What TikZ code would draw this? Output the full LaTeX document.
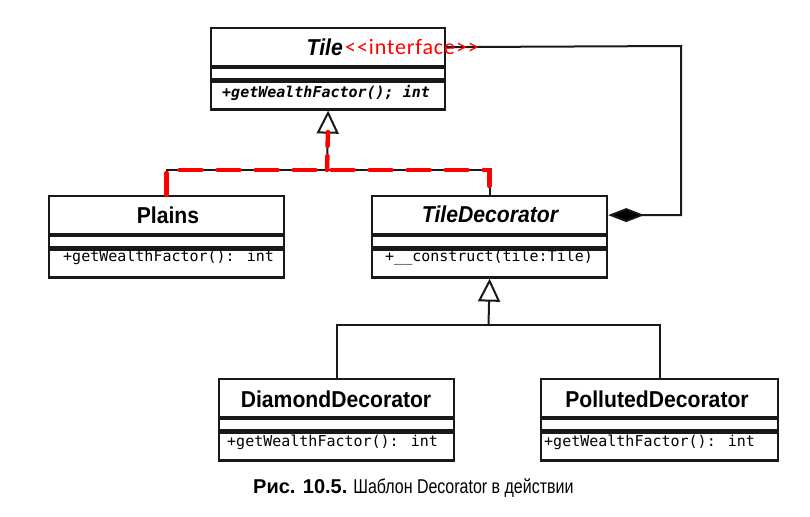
\documentclass[tikz,border=0pt]{standalone}
\usepackage{fontspec}
\setmainfont{Liberation Sans}
\newfontfamily\ttlf[FakeStretch=0.92]{Liberation Sans}
\newfontfamily\monof{DejaVu Sans Mono}
\newfontfamily\redf[LetterSpace=4]{Carlito}
\newfontfamily\capf[FakeStretch=0.8]{Liberation Sans}
\usetikzlibrary{arrows.meta}
\definecolor{ink}{RGB}{25,25,25}
\begin{document}
\begin{tikzpicture}[x=1pt,y=-1pt,
  box/.style={draw=ink, line width=2.2pt, minimum width=235pt, inner sep=0pt, anchor=north west},
  ttl/.style={box, minimum height=38pt},
  att/.style={box, minimum height=11pt},
  mth/.style={box, minimum height=28pt},
  ttltext/.style={font=\ttlf\fontsize{23}{23}\selectfont\bfseries, inner sep=0pt, anchor=base},
  mtext/.style={font=\monof\fontsize{15}{15}\selectfont, inner sep=0pt, anchor=base west},
  conn/.style={draw=ink, line width=2pt},
  gen/.style={conn, -{Triangle[open, length=23pt, width=22pt, line width=2pt]}},
  comp/.style={conn, -{Diamond[fill=black, length=36pt, width=14pt]}},
  reddash/.style={draw=red, line width=4.5pt, line cap=round, dash pattern=on 22pt off 16pt}
]
\useasboundingbox (0,0) rectangle (810,516);

% Tile
\node[ttl, minimum width=234pt] (tile) at (210,27) {};
\node[att, minimum width=234pt] (tile-a) at (tile.south west) {};
\node[mth, minimum width=234pt] (tile-m) at (tile-a.south west) {};

% Plains
\node[ttl] (plains) at (48,195) {};
\node[att] (plains-a) at (plains.south west) {};
\node[mth] (plains-m) at (plains-a.south west) {};

% TileDecorator
\node[ttl] (td) at (371,195) {};
\node[att] (td-a) at (td.south west) {};
\node[mth] (td-m) at (td-a.south west) {};

% DiamondDecorator
\node[ttl] (dd) at (218,378) {};
\node[att] (dd-a) at (dd.south west) {};
\node[mth] (dd-m) at (dd-a.south west) {};

% PollutedDecorator
\node[ttl, minimum width=237pt] (pd) at (540,378) {};
\node[att, minimum width=237pt] (pd-a) at (pd.south west) {};
\node[mth, minimum width=237pt] (pd-m) at (pd-a.south west) {};

% connectors
\coordinate (j1) at (327,170);
\coordinate (j2) at (488.5,325);
\coordinate (c1) at (681,46);
\draw[conn] (plains.north) |- (j1) -| (td.north);
\draw[gen] (j1) -- (tile-m.south);
\draw[conn] (dd.north) |- (j2) -| (pd.north);
\draw[gen] (j2) -- (td-m.south);
\draw[comp] (tile.east) -- (c1) |- (td.east);

% red dashed overlay
\draw[reddash] (plains.north) |- (j1) -| (td.north);
\draw[reddash, dash pattern=on 14pt off 10pt] (j1) -- ([yshift=3pt]tile-m.south |- 0,130);

% titles
\node[ttltext, font=\ttlf\fontsize{23}{23}\selectfont\bfseries\itshape, anchor=base east] (tile-t) at (343,56) {Tile};
\node[font=\redf\fontsize{22}{22}\selectfont, text=red, inner sep=0pt, anchor=base west] (tile-i) at (345,55) {<<interface>>};
\node[ttltext] (plains-t) at (168,223) {Plains};
\node[ttltext, font=\ttlf\fontsize{23}{23}\selectfont\bfseries\itshape] (td-t) at (490,222) {TileDecorator};
\node[ttltext] (dd-t) at (336,407) {DiamondDecorator};
\node[ttltext] (pd-t) at (657,407) {PollutedDecorator};

% methods
\node[mtext, font=\monof\fontsize{15}{15}\selectfont\bfseries\itshape] (tile-mt) at (222,98) {+getWealthFactor(); int};
\node[mtext] (plains-mt) at (63,261) {+getWealthFactor(): int};
\node[mtext] (td-mt) at (385,261) {+\_\_construct(tile:Tile)};
\node[mtext] (dd-mt) at (227,446) {+getWealthFactor(): int};
\node[mtext] (pd-mt) at (544,446) {+getWealthFactor(): int};

% caption
\node[inner sep=0pt, anchor=base west, font=\capf\fontsize{20}{20}\selectfont] (cap) at (253,493)
  {{\setmainfont{Liberation Sans}\bfseries Рис. 10.5.} Шаблон Decorator в действии};
\end{tikzpicture}
\end{document}
